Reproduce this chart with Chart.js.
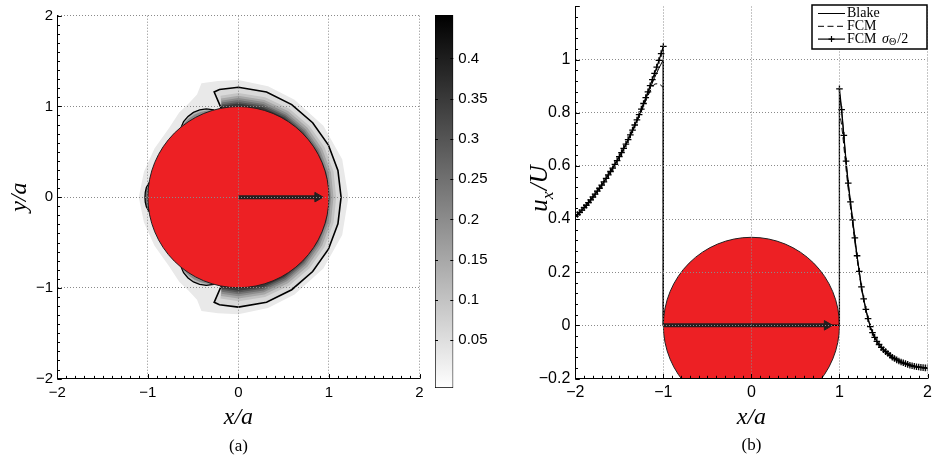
<!DOCTYPE html>
<html><head><meta charset="utf-8">
<script src="https://cdn.jsdelivr.net/npm/chart.js@4.4.1/dist/chart.umd.min.js"></script>
<style>
html,body{margin:0;padding:0;background:#fff;width:934px;height:463px;overflow:hidden}
.c{position:absolute;top:0}
</style></head><body>
<canvas id="ca" class="c" style="left:0" width="428" height="463"></canvas>
<canvas id="cb" class="c" style="left:428px" width="72" height="463"></canvas>
<canvas id="cc" class="c" style="left:500px" width="434" height="463"></canvas>
<script>
// ================= DATA =================
// ---- panel (a): contour field (polar: angle in deg, radius in units of a)
const colorbarMin = -0.0096;
const colorbarMax = 0.454;
const colorbarTicks = [0.05, 0.1, 0.15, 0.2, 0.25, 0.3, 0.35, 0.4];

const haloAngles = [0, 20, 40, 60, 75, 90, 100, 108, 112, 118, 125, 135, 150, 165, 180];
const haloRadii  = [1.215, 1.22, 1.225, 1.24, 1.265, 1.29, 1.30, 1.32, 1.22, 1.17, 1.14, 1.08, 1.07, 1.08, 1.10];
const haloLevel = 0.03;

const contourAngles = [0, 15, 30, 45, 60, 75, 90, 100, 103, 101];
const contourRadii  = [1.134, 1.138, 1.148, 1.160, 1.178, 1.200, 1.212, 1.205, 1.19, 1.0];
const contourLevel = 0.06;

const crescentAngles = [0, 15, 30, 45, 60, 75, 90, 100, 101];
const band2Radii = [1.080, 1.088, 1.098, 1.110, 1.125, 1.140, 1.148, 1.135, 1.0];
const band3Radii = [1.050, 1.058, 1.068, 1.080, 1.095, 1.110, 1.118, 1.105, 1.0];
const band4Radii = [1.025, 1.032, 1.042, 1.055, 1.070, 1.085, 1.092, 1.080, 1.0];
const band5Radii = [1.005, 1.012, 1.022, 1.035, 1.050, 1.064, 1.070, 1.058, 1.0];
const band6Radii = [1.000, 1.000, 1.005, 1.017, 1.032, 1.045, 1.050, 1.040, 1.0];
const band7Radii = [1.000, 1.000, 1.000, 1.003, 1.015, 1.027, 1.032, 1.022, 1.0];
const bandLevels = [0.10, 0.15, 0.20, 0.25, 0.30, 0.35];

const lobeAngles = [106, 110, 114, 118, 122, 126, 129];
const lobeRadii  = [1.0, 1.035, 1.052, 1.058, 1.050, 1.030, 1.0];
const lobeInnerRadii = [1.0, 1.015, 1.028, 1.032, 1.025, 1.012, 1.0];
const lobeLevels = [0.12, 0.20];
const leftLobeAngles = [171, 174, 177, 180, 183, 186, 189];
const leftLobeRadii  = [1.0, 1.022, 1.030, 1.032, 1.030, 1.022, 1.0];
const leftLobeLevel = 0.25;

const arrowAX = [0, 0.875];
const arrowAY = [0, 0];

// ---- panel (b): u_x/U along the x axis
const xLeft = [-2.00,-1.95,-1.90,-1.85,-1.80,-1.75,-1.70,-1.65,-1.60,-1.55,-1.50,-1.45,-1.40,-1.35,-1.30,-1.25,-1.20,-1.15,-1.10,-1.05,-1.00];
const blakeLeft = [0.410,0.425,0.443,0.462,0.483,0.505,0.528,0.553,0.579,0.606,0.635,0.666,0.699,0.734,0.771,0.810,0.851,0.892,0.932,0.968,1.000];
const fcmLeft   = [0.410,0.425,0.443,0.462,0.483,0.505,0.528,0.553,0.579,0.606,0.634,0.664,0.696,0.730,0.766,0.805,0.845,0.882,0.908,0.910,0.895];
const xRight = [1.00,1.02,1.04,1.06,1.08,1.10,1.12,1.14,1.16,1.18,1.20,1.25,1.30,1.35,1.40,1.45,1.50,1.60,1.70,1.80,1.90,2.00];
const blakeRight = [0.875,0.822,0.750,0.672,0.597,0.532,0.475,0.421,0.367,0.312,0.259,0.143,0.058,-0.006,-0.046,-0.073,-0.093,-0.121,-0.139,-0.151,-0.158,-0.161];
const fcmRight   = [0.800,0.765,0.708,0.640,0.572,0.512,0.458,0.405,0.352,0.300,0.250,0.137,0.052,-0.010,-0.049,-0.075,-0.095,-0.122,-0.140,-0.152,-0.158,-0.161];

// FCM sigma/2 is sampled more finely (its markers are dense in the figure)
const xLeftFine = [-2.000,-1.975,-1.950,-1.925,-1.900,-1.875,-1.850,-1.825,-1.800,-1.775,-1.750,-1.725,-1.700,-1.675,-1.650,-1.625,-1.600,-1.575,-1.550,-1.525,-1.500,-1.475,-1.450,-1.425,-1.400,-1.375,-1.350,-1.325,-1.300,-1.275,-1.250,-1.225,-1.200,-1.175,-1.150,-1.125,-1.100,-1.075,-1.050,-1.025,-1.000];
const fcmHalfLeft = [0.410,0.417,0.425,0.434,0.443,0.452,0.462,0.472,0.483,0.494,0.505,0.516,0.528,0.540,0.553,0.566,0.579,0.592,0.606,0.620,0.635,0.650,0.666,0.682,0.699,0.717,0.735,0.754,0.773,0.793,0.814,0.835,0.857,0.879,0.902,0.925,0.948,0.972,0.997,1.023,1.050];
const xRightFine = [1.000,1.025,1.050,1.075,1.100,1.125,1.150,1.175,1.200,1.225,1.250,1.275,1.300,1.325,1.350,1.375,1.400,1.425,1.450,1.475,1.500,1.525,1.550,1.575,1.600,1.625,1.650,1.675,1.700,1.725,1.750,1.775,1.800,1.825,1.850,1.875,1.900,1.925,1.950,1.975,2.000];
const fcmHalfRight = [0.890,0.812,0.715,0.618,0.535,0.465,0.397,0.329,0.262,0.203,0.145,0.100,0.060,0.025,-0.005,-0.027,-0.045,-0.060,-0.072,-0.083,-0.092,-0.099,-0.106,-0.113,-0.120,-0.125,-0.130,-0.134,-0.138,-0.141,-0.144,-0.147,-0.150,-0.152,-0.154,-0.156,-0.157,-0.158,-0.159,-0.160,-0.160];

const xInside = [-1.0, 1.0];
const uInside = [0, 0];
const seriesLabels = ['Blake', 'FCM', 'FCM \u03c3\u0398/2'];
const arrowBX = [-1, 0.86];
const arrowBY = [0, 0];

// ================= HELPERS =================
const SERIF = "'Liberation Serif', 'DejaVu Serif', serif";
const SANS = "'Liberation Sans', Arial, Helvetica, sans-serif";
const RED = '#ed2024';
const INK = '#231f20';

function shadeFor(v) {
  const t = Math.max(0, Math.min(1, (v - colorbarMin) / (colorbarMax - colorbarMin)));
  const g = Math.round(255 * (1 - t));
  return `rgb(${g},${g},${g})`;
}
function polarToXY(angles, radii) {
  return angles.map((a, i) => ({ x: radii[i] * Math.cos(a * Math.PI / 180), y: radii[i] * Math.sin(a * Math.PI / 180) }));
}
function mirrorUpper(angles, radii) {
  const A = [], R = [];
  for (let i = angles.length - 1; i >= 0; i--) if (angles[i] !== 0) { A.push(-angles[i]); R.push(radii[i]); }
  angles.forEach((a, i) => { A.push(a); R.push(radii[i]); });
  return polarToXY(A, R);
}
const closedAtCentre = pts => [{ x: 0, y: 0 }, ...pts, { x: 0, y: 0 }];
const pairs = (xs, ys) => xs.map((x, i) => ({ x, y: ys[i] }));
const fmt = v => { const r = Math.round(v * 100) / 100; return (r < 0 ? '\u2212' : '') + String(Math.abs(r)); };
const unitPx = chart => Math.abs(chart.scales.x.getPixelForValue(1) - chart.scales.x.getPixelForValue(0));

const inwardTicks = {
  id: 'inwardTicks',
  afterDraw(chart, args, o) {
    const { ctx, chartArea: a } = chart;
    ctx.save();
    ctx.strokeStyle = '#000';
    ctx.lineWidth = 1;
    (o.axes || []).forEach(ax => {
      const s = chart.scales[ax.id];
      const n = Math.round((ax.to - ax.from) / ax.step);
      for (let i = 0; i <= n; i++) {
        const v = ax.from + i * ax.step;
        const q = v / ax.major;
        const len = Math.abs(q - Math.round(q)) < 1e-6 ? ax.majorLen : ax.minorLen;
        const p = Math.round(s.getPixelForValue(v)) + 0.5;
        ctx.beginPath();
        ax.sides.forEach(side => {
          if (side === 'bottom') { ctx.moveTo(p, a.bottom); ctx.lineTo(p, a.bottom - len); }
          if (side === 'left') { ctx.moveTo(a.left, p); ctx.lineTo(a.left + len, p); }
          if (side === 'right') { ctx.moveTo(a.right, p); ctx.lineTo(a.right - len, p); }
        });
        ctx.stroke();
      }
    });
    ctx.restore();
  }
};

const boxLegend = {
  id: 'boxLegend',
  afterDraw(chart, args, o) {
    const ctx = chart.ctx;
    ctx.save();
    ctx.fillStyle = '#fff';
    ctx.fillRect(o.x, o.y, o.w, o.h);
    ctx.lineWidth = 1.5;
    ctx.strokeStyle = '#000';
    ctx.strokeRect(o.x, o.y, o.w, o.h);
    o.rows.forEach((row, k) => {
      const ds = chart.data.datasets[row.dataset];
      const y = o.y + o.firstRow + k * o.rowGap;
      ctx.strokeStyle = ds.borderColor;
      ctx.lineWidth = ds.borderWidth;
      ctx.setLineDash(ds.borderDash || []);
      ctx.beginPath(); ctx.moveTo(o.x + o.lineFrom, y); ctx.lineTo(o.x + o.lineTo, y); ctx.stroke();
      ctx.setLineDash([]);
      if (row.marker) {
        const mx = o.x + (o.lineFrom + o.lineTo) / 2, r = 3;
        ctx.beginPath(); ctx.moveTo(mx - r, y); ctx.lineTo(mx + r, y); ctx.moveTo(mx, y - r); ctx.lineTo(mx, y + r); ctx.stroke();
      }
      let tx = o.x + o.textX;
      ctx.fillStyle = '#000';
      ctx.textBaseline = 'middle';
      row.parts.forEach(p => {
        const size = p.sub ? o.size * 0.72 : o.size;
        ctx.font = `${p.italic ? 'italic ' : ''}${size}px ${SERIF}`;
        ctx.fillText(p.t, tx, y + (p.sub ? 3 : 0));
        tx += ctx.measureText(p.t).width + (p.gap || 0);
      });
    });
    ctx.restore();
  }
};

// rotated axis title with a real subscript (u_x / U)
const richYTitle = {
  id: 'richYTitle',
  afterDraw(chart, args, o) {
    const ctx = chart.ctx, a = chart.chartArea;
    const fontOf = p => `italic ${p.sub ? o.size * 0.7 : o.size}px ${SERIF}`;
    ctx.save();
    ctx.translate(o.x, (a.top + a.bottom) / 2 + (o.dy || 0));
    ctx.rotate(-Math.PI / 2);
    let total = 0;
    o.parts.forEach(p => { ctx.font = fontOf(p); total += ctx.measureText(p.t).width + (p.gap || 0); });
    let x = -total / 2;
    ctx.fillStyle = '#000';
    ctx.textBaseline = 'alphabetic';
    o.parts.forEach(p => {
      ctx.font = fontOf(p);
      ctx.fillText(p.t, x, p.sub ? o.size * 0.22 : 0);
      x += ctx.measureText(p.t).width + (p.gap || 0);
    });
    ctx.restore();
  }
};

function withOrder(list) { return list.map((d, i) => Object.assign({ order: list.length - i }, d)); }
function poly(points, fillColor, border) {
  return { type: 'line', data: points, showLine: true, fill: fillColor ? 'shape' : false,
    backgroundColor: fillColor || 'rgba(0,0,0,0)', borderColor: border ? '#000' : 'rgba(0,0,0,0)',
    borderWidth: border ? border : 0, pointRadius: 0, tension: 0 };
}
function sphere() {
  return { type: 'scatter', data: [{ x: 0, y: 0 }], pointRadius: c => unitPx(c.chart), pointHoverRadius: 0, pointStyle: 'circle',
    pointBackgroundColor: RED, pointBorderColor: INK, pointBorderWidth: 1, showLine: false, clip: 0 };
}
function arrow(xs, ys) {
  return { type: 'line', data: pairs(xs, ys), borderColor: INK, borderWidth: 4, pointRadius: [0, 5.5], pointStyle: 'triangle',
    pointRotation: 90, pointBackgroundColor: INK, pointBorderColor: INK, pointBorderWidth: 1, borderCapStyle: 'butt', tension: 0 };
}
function axisTitle(text, padObj) {
  return { display: true, text, color: '#000', font: { family: SERIF, size: 24, style: 'italic', lineHeight: 1 }, padding: padObj };
}
function tickFont(size) { return { family: SANS, size }; }

// ================= PANEL (a) =================
const crescent = r => closedAtCentre(mirrorUpper(crescentAngles, r));
const contourPts = closedAtCentre(mirrorUpper(contourAngles, contourRadii));
const bandRadii = [band2Radii, band3Radii, band4Radii, band5Radii, band6Radii, band7Radii];
const lobeDown = lobeAngles.map(a => -a);

const datasetsA = withOrder([
  poly(mirrorUpper(haloAngles, haloRadii), shadeFor(haloLevel), 0),
  poly(contourPts, shadeFor(contourLevel), 0),
  ...bandRadii.map((r, i) => poly(crescent(r), shadeFor(bandLevels[i]), 0)),
  poly(contourPts, null, 1.6),
  poly(closedAtCentre(polarToXY(lobeAngles, lobeRadii)), shadeFor(lobeLevels[0]), 1.3),
  poly(closedAtCentre(polarToXY(lobeAngles, lobeInnerRadii)), shadeFor(lobeLevels[1]), 0),
  poly(closedAtCentre(polarToXY(lobeDown, lobeRadii)), shadeFor(lobeLevels[0]), 1.3),
  poly(closedAtCentre(polarToXY(lobeDown, lobeInnerRadii)), shadeFor(lobeLevels[1]), 0),
  poly(closedAtCentre(polarToXY(leftLobeAngles, leftLobeRadii)), shadeFor(leftLobeLevel), 1.3),
  sphere(),
  arrow(arrowAX, arrowAY)
]);

new Chart(document.getElementById('ca'), {
  type: 'scatter',
  data: { datasets: datasetsA },
  options: {
    responsive: false, animation: false, events: [], devicePixelRatio: 1,
    layout: { padding: { left: 0, right: 8.5, top: 15.7, bottom: 0 } },
    scales: {
      x: { type: 'linear', min: -2, max: 2,
        ticks: { stepSize: 1, color: '#000', font: tickFont(15), padding: 5, callback: v => fmt(v), maxRotation: 0 },
        grid: { color: '#8a8a8a', lineWidth: 1, drawTicks: false, z: 1 },
        border: { display: true, color: '#000', width: 1, dash: [1, 2], z: 2 },
        title: axisTitle('x/a', { top: 0, bottom: 2.8 }),
        afterFit: s => { s.height = 54.2; s.paddingLeft = 0; s.paddingRight = 0; } },
      y: { type: 'linear', min: -2, max: 2,
        ticks: { stepSize: 1, color: '#000', font: tickFont(15), padding: 4.3, callback: v => fmt(v) },
        grid: { color: '#8a8a8a', lineWidth: 1, drawTicks: false, z: 1 },
        border: { display: true, color: '#000', width: 1, dash: [1, 2], z: 2 },
        title: axisTitle('y/a', { top: 8, bottom: 0 }),
        afterFit: s => { s.width = 57.3; s.paddingTop = 0; s.paddingBottom = 0; } }
    },
    plugins: {
      legend: { display: false }, tooltip: { enabled: false },
      subtitle: { display: true, text: '(a)', position: 'bottom', fullSize: false, color: '#000',
        font: { family: SERIF, size: 17, lineHeight: 1.2 }, padding: { top: 4, bottom: 5.8 } },
      inwardTicks: { axes: [
        { id: 'x', from: -2, to: 2, step: 0.1, major: 1, minorLen: 2.7, majorLen: 4.5, sides: ['bottom'] },
        { id: 'y', from: -2, to: 2, step: 0.1, major: 1, minorLen: 2.7, majorLen: 4.5, sides: ['left'] }
      ] }
    }
  },
  plugins: [inwardTicks]
});

// ================= COLORBAR =================
new Chart(document.getElementById('cb'), {
  type: 'bar',
  data: { labels: [''], datasets: [{
    data: [[colorbarMin, colorbarMax]],
    backgroundColor: c => {
      const a = c.chart.chartArea;
      if (!a) return '#888';
      const g = c.chart.ctx.createLinearGradient(0, a.bottom, 0, a.top);
      g.addColorStop(0, shadeFor(colorbarMin));
      g.addColorStop(1, shadeFor(colorbarMax));
      return g;
    },
    borderColor: '#000', borderWidth: 1, borderSkipped: false, barPercentage: 1, categoryPercentage: 1
  }] },
  options: {
    responsive: false, animation: false, events: [], devicePixelRatio: 1,
    layout: { padding: { left: 7, right: 0, top: 15, bottom: 75 } },
    scales: {
      x: { display: false },
      y: { position: 'right', min: colorbarMin, max: colorbarMax,
        afterBuildTicks: s => { s.ticks = colorbarTicks.map(v => ({ value: v })); },
        ticks: { color: '#000', font: tickFont(15), padding: 5, callback: v => fmt(v) },
        grid: { display: false, drawTicks: false }, border: { display: false },
        afterFit: s => { s.width = 46.7; s.paddingTop = 0; s.paddingBottom = 0; } }
    },
    plugins: {
      legend: { display: false }, tooltip: { enabled: false },
      inwardTicks: { axes: [{ id: 'y', from: 0.05, to: 0.4, step: 0.05, major: 0.05, minorLen: 3, majorLen: 3, sides: ['left', 'right'] }] }
    }
  },
  plugins: [inwardTicks]
});

// ================= PANEL (b) =================
const series = (xl, l, xr, r) => [...pairs(xl, l), ...pairs(xInside, uInside), ...pairs(xr, r)];
const markerRadii = [...xLeftFine.map(() => 3.3), ...xInside.map(() => 0), ...xRightFine.map(() => 3.3)];

const datasetsB = withOrder([
  sphere(),
  { type: 'line', label: seriesLabels[0], data: series(xLeft, blakeLeft, xRight, blakeRight), borderColor: '#000', borderWidth: 1, pointRadius: 0, tension: 0, fill: false },
  { type: 'line', label: seriesLabels[1], data: series(xLeft, fcmLeft, xRight, fcmRight), borderColor: '#000', borderWidth: 1, borderDash: [6, 3.5], pointRadius: 0, tension: 0, fill: false },
  { type: 'line', label: seriesLabels[2], data: series(xLeftFine, fcmHalfLeft, xRightFine, fcmHalfRight), borderColor: '#000', borderWidth: 1.2,
    pointRadius: markerRadii, pointStyle: 'cross', pointBorderColor: '#000', pointBorderWidth: 1.3, tension: 0, fill: false },
  arrow(arrowBX, arrowBY)
]);

new Chart(document.getElementById('cc'), {
  type: 'scatter',
  data: { datasets: datasetsB },
  options: {
    responsive: false, animation: false, events: [], devicePixelRatio: 1,
    layout: { padding: { left: 0, right: 2.3, top: 0.3, bottom: 0 } },
    scales: {
      x: { type: 'linear', min: -2, max: 2,
        ticks: { stepSize: 1, color: '#000', font: tickFont(16), padding: 4.5, callback: v => fmt(v), maxRotation: 0 },
        grid: { color: '#8a8a8a', lineWidth: 1, drawTicks: false, z: 1 },
        border: { display: true, color: '#000', width: 1, dash: [1, 2], z: 2 },
        title: axisTitle('x/a', { top: 0, bottom: 1.8 }),
        afterFit: s => { s.height = 53.3; s.paddingLeft = 0; s.paddingRight = 0; } },
      y: { type: 'linear', min: -0.2, max: 1.2,
        ticks: { stepSize: 0.2, color: '#000', font: tickFont(16), padding: 5, callback: v => (v > 1.1 ? null : fmt(v)) },
        grid: { color: '#8a8a8a', lineWidth: 1, drawTicks: false, z: 1 },
        border: { display: true, color: '#000', width: 1, dash: [1, 2], z: 2 },
        afterFit: s => { s.width = 75.3; s.paddingTop = 0; s.paddingBottom = 0; } }
    },
    plugins: {
      legend: { display: false }, tooltip: { enabled: false },
      subtitle: { display: true, text: '(b)', position: 'bottom', fullSize: false, color: '#000',
        font: { family: SERIF, size: 17, lineHeight: 1.2 }, padding: { top: 4, bottom: 6.8 } },
      inwardTicks: { axes: [
        { id: 'x', from: -2, to: 2, step: 0.1, major: 1, minorLen: 2.7, majorLen: 4.5, sides: ['bottom'] },
        { id: 'y', from: -0.2, to: 1.2, step: 0.04, major: 0.2, minorLen: 2.7, majorLen: 4.5, sides: ['left'] }
      ] },
      richYTitle: { x: 47, size: 25, dy: -4, parts: [{ t: 'u' }, { t: 'x', sub: true, gap: 1 }, { t: '/U' }] },
      boxLegend: { x: 312, y: 5, w: 115, h: 44, firstRow: 8.5, rowGap: 12.8, lineFrom: 6, lineTo: 33, textX: 35, size: 14,
        rows: [
          { dataset: 1, parts: [{ t: seriesLabels[0] }] },
          { dataset: 2, parts: [{ t: seriesLabels[1] }] },
          { dataset: 3, marker: true, parts: [{ t: 'FCM ', gap: 2 }, { t: '\u03c3', italic: true }, { t: '\u0398', sub: true, gap: 1 }, { t: '/2' }] }
        ] }
    }
  },
  plugins: [inwardTicks, boxLegend, richYTitle]
});
</script>
</body></html>
